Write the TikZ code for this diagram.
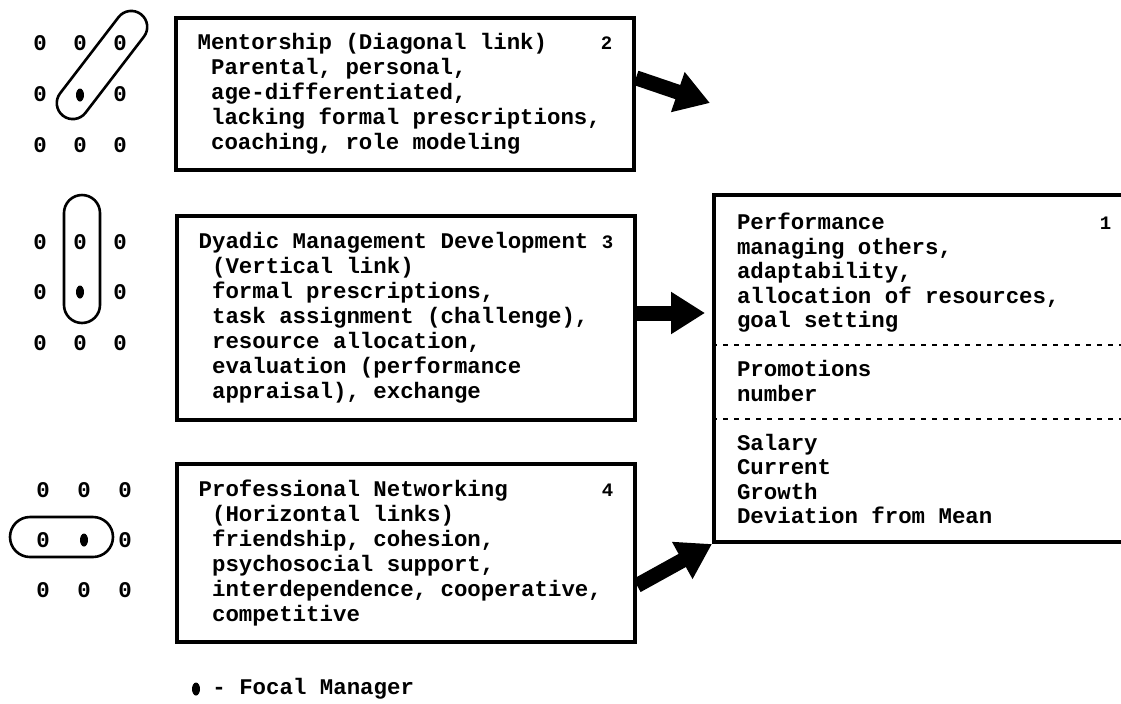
\documentclass[tikz,border=0pt]{standalone}
\usepackage{fontspec}
\setmonofont{Liberation Mono}
\usetikzlibrary{arrows.meta,positioning}
\tikzset{
  tt/.style={font=\ttfamily\bfseries\fontsize{11.2}{12.5}\selectfont},
  box/.style={tt, draw, line width=2pt, align=left, inner sep=0pt},
  zero/.style={tt, inner sep=0pt},
  focal/.style={fill, ellipse, minimum width=4pt, minimum height=6.5pt, inner sep=0pt},
  pill/.style={draw, line width=1.3pt, inner sep=0pt},
  bigarrow/.style={line width=7.5pt, -{Triangle[length=17pt,width=20pt]}},
  cut/.style={dash pattern=on 2.5pt off 3pt, line width=1pt}
}
\usetikzlibrary{shapes.geometric}
\newcommand{\indt}{\phantom{0}}
\newcommand{\boxno}[1]{{\fontsize{9.5}{9.5}\selectfont #1}}

\begin{document}
\begin{tikzpicture}[x=0.5pt,y=-0.5pt]
 \useasboundingbox (0,0) rectangle (1121,703);
 \clip (0,0) rectangle (1121,703);
%
% grids of managers
 \foreach \c in {0,1,2}
  \foreach \r in {0,1,2}{
   \ifnum\c\r=11 \else \node[zero] (ga\c\r) at (40+40*\c,43+51*\r) {0}; \fi
   \ifnum\c\r=11 \else \node[zero] (gb\c\r) at (40+40*\c,242+50.5*\r) {0}; \fi
   \ifnum\c\r=11 \else \node[zero] (gc\c\r) at (43+41*\c,490+50*\r) {0}; \fi
  }
 \node[focal] (fa) at (80,95) {};
 \node[focal] (fb) at (80,292) {};
 \node[focal] (fc) at (84,540) {};
%
 \node[pill, rounded corners=8pt, minimum height=16pt, minimum width=64pt, rotate=52.5] (diag) at (102,65) {};
 \node[pill, rounded corners=9pt, minimum height=18pt, minimum width=64pt, rotate=90] (vert) at (82,259) {};
 \node[pill, rounded corners=10pt, minimum height=20pt, minimum width=51.5pt] (horiz) at (61.5,537) {};
%
% link boxes
 \node[box, minimum width=229pt, minimum height=76pt] (mentor) at (405,94) {%
  Mentorship (Diagonal link)\phantom{0000}\boxno{2}\\
  \indt Parental, personal,\\
  \indt age-differentiated,\\
  \indt lacking formal prescriptions,\\
  \indt coaching, role modeling};
 \node[box, minimum width=229pt, minimum height=102pt] (dyadic) at (406,318) {%
  Dyadic Management Development \boxno{3}\\
  \indt(Vertical link)\\
  \indt formal prescriptions,\\
  \indt task assignment (challenge),\\
  \indt resource allocation,\\
  \indt evaluation (performance\\
  \indt appraisal), exchange};
 \node[box, minimum width=229pt, minimum height=89pt] (netw) at (406,553) {%
  Professional Networking\phantom{0000000}\boxno{4}\\
  \indt(Horizontal links)\\
  \indt friendship, cohesion,\\
  \indt psychosocial support,\\
  \indt interdependence, cooperative,\\
  \indt competitive};
%
% outcomes
 \node[box, anchor=north west, font=\ttfamily\bfseries\fontsize{11.2}{12.25}\selectfont,
   inner xsep=11.5pt, minimum height=173.5pt] (perf) at (712,193) {%
  Performance\phantom{0000000000000000}\boxno{1}\\
  managing others,\\
  adaptability,\\
  allocation of resources,\\
  goal setting\\[12.25pt]
  Promotions\\
  number\\[12.25pt]
  Salary\\
  Current\\
  Growth\\
  Deviation from Mean};
 \draw[cut] (perf.west |- 0,345) -- (perf.east |- 0,345);
 \draw[cut] (perf.west |- 0,419) -- (perf.east |- 0,419);
%
% arrows
 \coordinate (mtip) at (710,103);
 \draw[bigarrow] (mentor.4) -- (mtip);
 \draw[bigarrow] ([yshift=2.5pt]dyadic.east) -- ([yshift=2.5pt,xshift=-3.5pt]dyadic.east -| perf.west);
 \draw[bigarrow] (netw.-8) -- (perf.south west);
%
% legend
 \node[focal] (legdot) at (196,689) {};
 \node[tt, anchor=west, inner sep=0pt] (legtxt) at (212,689) {- Focal Manager};
\end{tikzpicture}
\end{document}
